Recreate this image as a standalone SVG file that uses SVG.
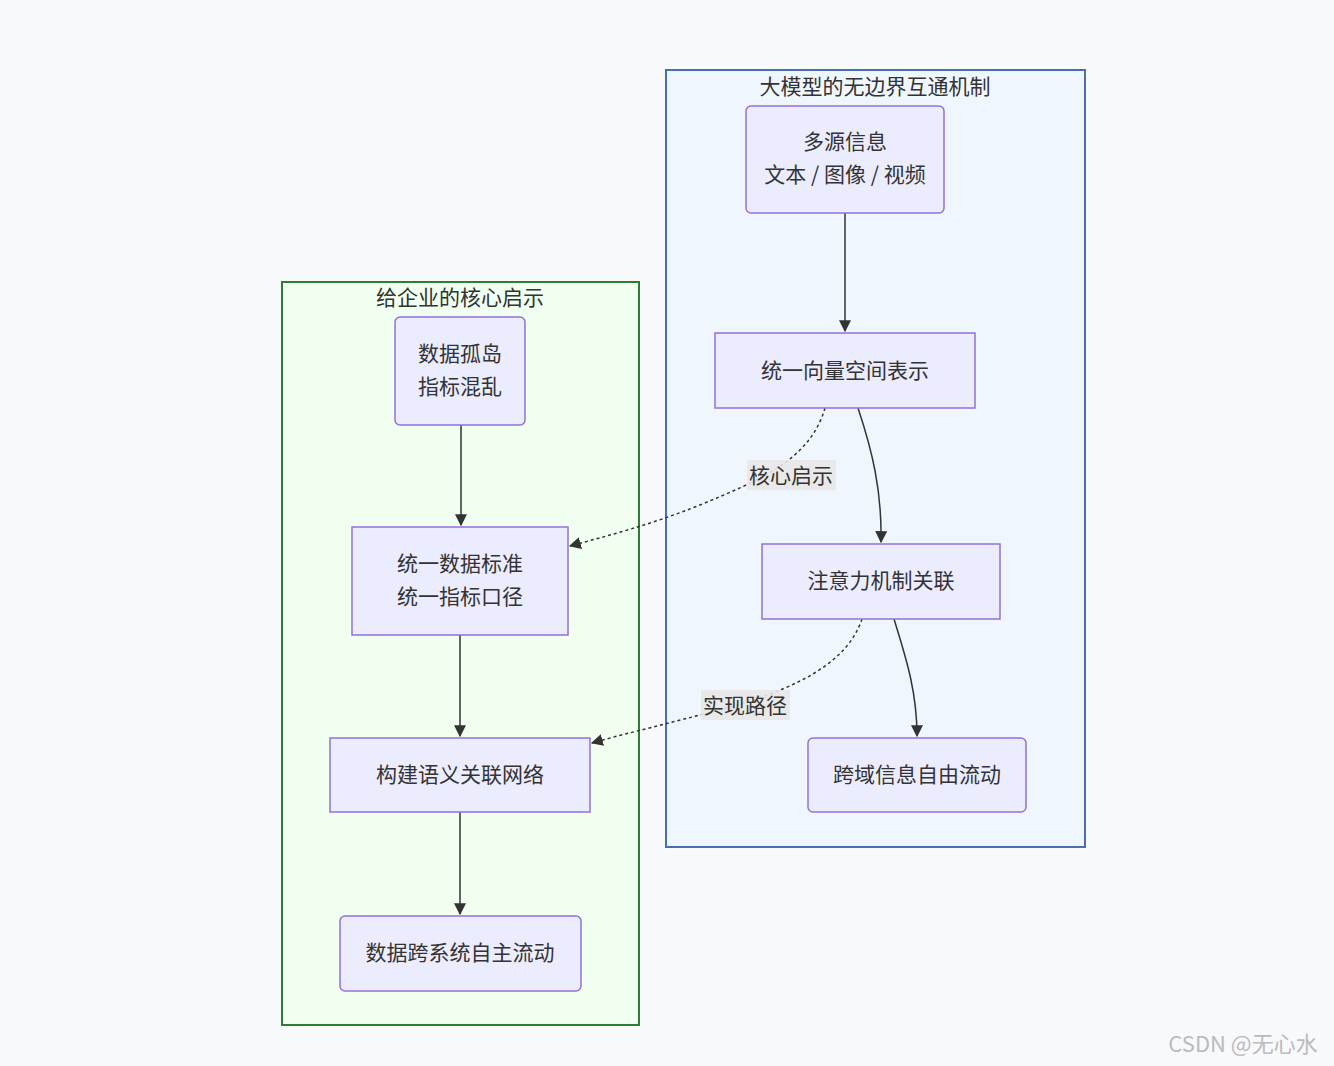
<svg xmlns="http://www.w3.org/2000/svg" width="1334" height="1066" viewBox="0 0 1334 1066">
<defs>
<style>
text{font-family:"Noto Sans CJK SC","Noto Sans",sans-serif;font-size:21px;fill:#333;text-anchor:middle}
.n{fill:#ECECFF;stroke:#9370DB;stroke-width:1.5}
.e{fill:none;stroke:#333;stroke-width:1.5}
.d{fill:none;stroke:#333;stroke-width:1.5;stroke-dasharray:3 3}
.lb{fill:#e8e8e8;opacity:0.9}
</style>
<marker id="a" viewBox="0 0 10 10" refX="9" refY="5" markerWidth="8" markerHeight="8" orient="auto"><path d="M0,0L10,5L0,10z" fill="#333"/></marker>
</defs>
<rect width="1334" height="1066" fill="#f8f9fb"/>
<g id="cluster-right"><rect x="666" y="70" width="419" height="777" fill="#f0f6fe" stroke="#4a6fb0" stroke-width="2"/><text x="875" y="94">大模型的无边界互通机制</text></g>
<g id="cluster-left"><rect x="282" y="282" width="357" height="743" fill="#f0fff0" stroke="#2e7d32" stroke-width="2"/><text x="460" y="305">给企业的核心启示</text></g>
<g id="connectors">
<path class="e" d="M845,213V331" marker-end="url(#a)"/>
<path class="e" d="M858,408C872,450 882,490 881,542" marker-end="url(#a)"/>
<path class="e" d="M894,619C905,655 917,690 917,736" marker-end="url(#a)"/>
<path class="e" d="M461,425V525" marker-end="url(#a)"/>
<path class="e" d="M460,635V736" marker-end="url(#a)"/>
<path class="e" d="M460,812V914" marker-end="url(#a)"/>
<path class="d" d="M825,408C810,460 760,480 700,505C650,525 610,535 570,546" marker-end="url(#a)"/>
<path class="d" d="M862,619C845,670 780,695 700,715C650,728 620,735 592,743" marker-end="url(#a)"/>
<rect class="lb" x="747" y="460" width="89" height="30"/><text x="791" y="483">核心启示</text>
<rect class="lb" x="701" y="690" width="89" height="30"/><text x="745" y="713">实现路径</text>
</g>
<g id="n1"><rect class="n" x="746" y="106" width="198" height="107" rx="5"/><text x="845" y="149">多源信息</text><text x="845" y="182">文本 / 图像 / 视频</text></g>
<g id="n2"><rect class="n" x="715" y="333" width="260" height="75"/><text x="845" y="378">统一向量空间表示</text></g>
<g id="n3"><rect class="n" x="762" y="544" width="238" height="75"/><text x="881" y="588">注意力机制关联</text></g>
<g id="n4"><rect class="n" x="808" y="738" width="218" height="74" rx="5"/><text x="917" y="782">跨域信息自由流动</text></g>
<g id="m1"><rect class="n" x="395" y="317" width="130" height="108" rx="5"/><text x="460" y="361">数据孤岛</text><text x="460" y="394">指标混乱</text></g>
<g id="m2"><rect class="n" x="352" y="527" width="216" height="108"/><text x="460" y="571">统一数据标准</text><text x="460" y="604">统一指标口径</text></g>
<g id="m3"><rect class="n" x="330" y="738" width="260" height="74"/><text x="460" y="782">构建语义关联网络</text></g>
<g id="m4"><rect class="n" x="340" y="916" width="241" height="75" rx="5"/><text x="460" y="960">数据跨系统自主流动</text></g>
<text x="1243" y="1052" style="fill:#bbb;font-size:22px">CSDN @无心水</text>
</svg>
